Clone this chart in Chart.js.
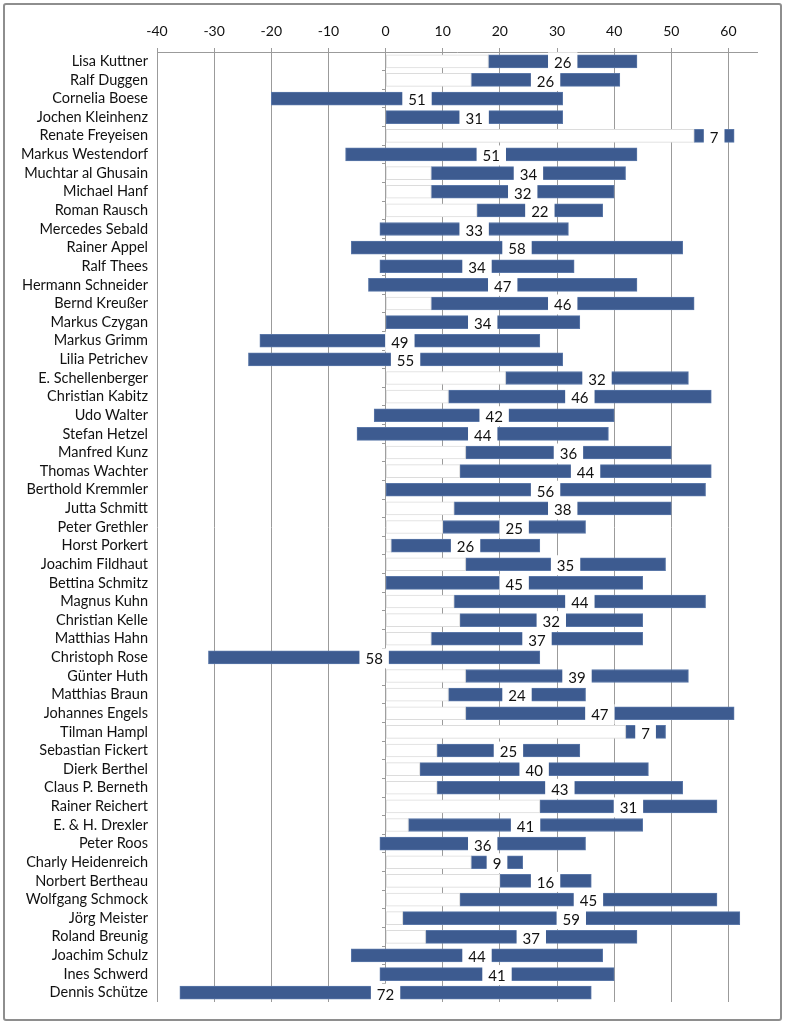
<!DOCTYPE html>
<html>
<head>
<meta charset="utf-8">
<script src="https://cdn.jsdelivr.net/npm/chart.js@4.4.1/dist/chart.umd.min.js"></script>
<style>
    html, body { margin: 0; padding: 0; background: #fff; }
    #frame {
        position: absolute; left: 3px; top: 3px; width: 779px; height: 1018px;
        border: 2px solid #8e8e8e; border-radius: 3px; box-sizing: border-box;
    }
    #wrap { position: absolute; left: 0; top: 0; width: 785px; height: 1024px; }
</style>
</head>
<body>
<div id="frame"></div>
<div id="wrap"><canvas id="chart"></canvas></div>
<script>
// ---- data ---------------------------------------------------------------
const names = [
    'Lisa Kuttner', 'Ralf Duggen', 'Cornelia Boese', 'Jochen Kleinhenz', 'Renate Freyeisen',
    'Markus Westendorf', 'Muchtar al Ghusain', 'Michael Hanf', 'Roman Rausch', 'Mercedes Sebald',
    'Rainer Appel', 'Ralf Thees', 'Hermann Schneider', 'Bernd Kreußer', 'Markus Czygan',
    'Markus Grimm', 'Lilia Petrichev', 'E. Schellenberger', 'Christian Kabitz', 'Udo Walter',
    'Stefan Hetzel', 'Manfred Kunz', 'Thomas Wachter', 'Berthold Kremmler', 'Jutta Schmitt',
    'Peter Grethler', 'Horst Porkert', 'Joachim Fildhaut', 'Bettina Schmitz', 'Magnus Kuhn',
    'Christian Kelle', 'Matthias Hahn', 'Christoph Rose', 'Günter Huth', 'Matthias Braun',
    'Johannes Engels', 'Tilman Hampl', 'Sebastian Fickert', 'Dierk Berthel', 'Claus P. Berneth',
    'Rainer Reichert', 'E. & H. Drexler', 'Peter Roos', 'Charly Heidenreich', 'Norbert Bertheau',
    'Wolfgang Schmock', 'Jörg Meister', 'Roland Breunig', 'Joachim Schulz', 'Ines Schwerd',
    'Dennis Schütze'
];

const lows = [
    18, 15, -20, 0, 54,
    -7, 8, 8, 16, -1,
    -6, -1, -3, 8, 0,
    -22, -24, 21, 11, -2,
    -5, 14, 13, 0, 12,
    10, 1, 14, 0, 12,
    13, 8, -31, 14, 11,
    14, 42, 9, 6, 9,
    27, 4, -1, 15, 20,
    13, 3, 7, -6, -1,
    -36
];

const highs = [
    44, 41, 31, 31, 61,
    44, 42, 40, 38, 32,
    52, 33, 44, 54, 34,
    27, 31, 53, 57, 40,
    39, 50, 57, 56, 50,
    35, 27, 49, 45, 56,
    45, 45, 27, 53, 35,
    61, 49, 34, 46, 52,
    58, 45, 35, 24, 36,
    58, 62, 44, 38, 40,
    36
];

const X_MIN = -40;
const X_MAX = 65;

// ---- helpers ------------------------------------------------------------
const FONT = 'Lato, "Open Sans", sans-serif';
const BAR_BLUE = '#3d5b90';
const GRID_GREY = '#9b9b9b';

// white lead-in from 0 to the start of the bar (only when the bar starts right of 0)
const leadIn = lows.map(v => (v > 0 ? [0, v] : null));
const ranges = lows.map((v, i) => [v, highs[i]]);

// span label sits in a white box at the middle of each bar
const spanLabels = {
    id: 'spanLabels',
    afterDatasetsDraw(chart) {
        const { ctx, scales } = chart;
        const meta = chart.getDatasetMeta(1);
        ctx.save();
        ctx.font = '15px ' + FONT;
        ctx.textAlign = 'center';
        ctx.textBaseline = 'middle';
        meta.data.forEach((bar, i) => {
            const span = highs[i] - lows[i];
            const cx = scales.x.getPixelForValue((lows[i] + highs[i]) / 2);
            const cy = bar.y + 2;
            const txt = String(span);
            const w = ctx.measureText(txt).width + 12;
            ctx.fillStyle = '#ffffff';
            ctx.fillRect(cx - w / 2, bar.y - 9, w, 20);
            ctx.fillStyle = '#111';
            ctx.fillText(txt, cx, cy);
        });
        ctx.restore();
    }
};

new Chart(document.getElementById('chart'), {
    type: 'bar',
    data: {
        labels: names,
        datasets: [
            {
                data: leadIn,
                backgroundColor: '#ffffff',
                borderColor: '#dcdcdc',
                borderWidth: 1,
                borderSkipped: false,
                barThickness: 13,
                grouped: false
            },
            {
                data: ranges,
                backgroundColor: BAR_BLUE,
                borderColor: '#5a77a8',
                borderWidth: 1,
                borderSkipped: false,
                barThickness: 13,
                grouped: false
            }
        ]
    },
    options: {
        indexAxis: 'y',
        responsive: true,
        maintainAspectRatio: false,
        animation: false,
        layout: { padding: { left: 0, right: 28, top: 0, bottom: 22 } },
        plugins: {
            legend: { display: false },
            tooltip: { enabled: false }
        },
        scales: {
            x: {
                position: 'top',
                min: X_MIN,
                max: X_MAX,
                ticks: {
                    stepSize: 10,
                    includeBounds: false,
                    color: '#111',
                    font: { family: FONT, size: 14 },
                    padding: 8
                },
                grid: { color: GRID_GREY, lineWidth: 1, tickLength: 4 },
                border: { color: GRID_GREY, width: 1 },
                afterFit(scale) { scale.height = 52; }
            },
            y: {
                position: 'left',
                grid: { display: false, drawTicks: false },
                border: { display: false },
                ticks: {
                    color: '#111',
                    font: { family: FONT, size: 14.5 },
                    padding: 9,
                    autoSkip: false
                },
                afterFit(scale) { scale.width = 157; }
            },
            y2: {
                type: 'category',
                position: { x: 0 },
                grid: {
                    drawOnChartArea: false,
                    offset: true,
                    tickLength: 4,
                    color: GRID_GREY
                },
                border: { display: false },
                ticks: { display: false }
            }
        }
    },
    plugins: [spanLabels]
});
</script>
</body>
</html>
